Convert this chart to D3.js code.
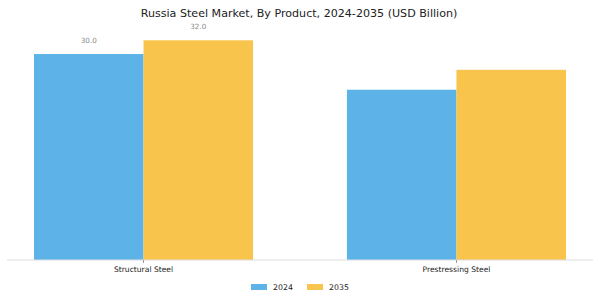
<!DOCTYPE html>
<html><head><meta charset="utf-8">
<script src="https://cdn.jsdelivr.net/npm/d3@7"></script>
<style>body{margin:0;background:#fff}svg{display:block}</style>
</head><body>
<svg id="c" width="600" height="300"></svg>
<script>
const categories = ["Structural Steel", "Prestressing Steel"];
const seriesNames = ["2024", "2035"];
const values2024 = [30.0, 24.8];
const values2035 = [32.0, 27.7];
const labelled = [true, false];
const colors = ["#5DB3E8", "#F9C44C"];
const title = "Russia Steel Market, By Product, 2024-2035 (USD Billion)";

const svg = d3.select("#c");
const font = "DejaVu Sans, sans-serif";
const x = d3.scaleBand().domain(categories).range([34, 566]).paddingInner(0.3).paddingOuter(0);
const xs = d3.scaleBand().domain(seriesNames).range([0, x.bandwidth()]);
const y = d3.scaleLinear().domain([0, 35]).range([260, 19.7]);
const color = d3.scaleOrdinal().domain(seriesNames).range(colors);

svg.append("text").attr("x", 299).attr("y", 16.5).attr("text-anchor", "middle")
  .attr("font-family", font).attr("font-size", 11.1).attr("fill", "#222").text(title);

const data = categories.map((c, i) => ({cat: c, vals: [values2024[i], values2035[i]], lab: labelled[i]}));
const g = svg.selectAll("g.grp").data(data).enter().append("g").attr("class","grp")
  .attr("transform", d => `translate(${x(d.cat)},0)`);
g.selectAll("rect").data(d => d.vals.map((v, j) => ({s: seriesNames[j], v}))).enter().append("rect")
  .attr("x", d => xs(d.s)).attr("width", xs.bandwidth())
  .attr("y", d => y(d.v)).attr("height", d => y(0) - y(d.v)).attr("fill", d => color(d.s));
g.filter(d => d.lab).selectAll("text.v").data(d => d.vals.map((v, j) => ({s: seriesNames[j], v}))).enter()
  .append("text").attr("class","v")
  .attr("x", d => xs(d.s) + xs.bandwidth()/2).attr("y", d => y(d.v) - 11)
  .attr("text-anchor","middle").attr("font-family", font).attr("font-size", 7.2).attr("fill","#888")
  .text(d => d.v.toFixed(1));

// axis
const ax = svg.append("g").attr("transform", "translate(0,260)")
  .call(d3.axisBottom(x).tickSize(3).tickPadding(4));
ax.select(".domain").remove();
ax.insert("line", ":first-child").attr("x1", 7).attr("x2", 593).attr("stroke", "#ddd");
ax.selectAll(".tick line").attr("stroke", "#999");
ax.selectAll(".tick text").attr("font-family", font).attr("font-size", 7.6).attr("fill", "#222");

// legend
const lg = svg.append("g");
const lx = [251, 307];
seriesNames.forEach((s, i) => {
  lg.append("rect").attr("x", lx[i]).attr("y", 284).attr("width", 16).attr("height", 6).attr("fill", color(s));
  lg.append("text").attr("x", lx[i] + 22).attr("y", 290).attr("font-family", font).attr("font-size", 7.8)
    .attr("fill", "#222").text(s);
});
</script>
</body></html>
